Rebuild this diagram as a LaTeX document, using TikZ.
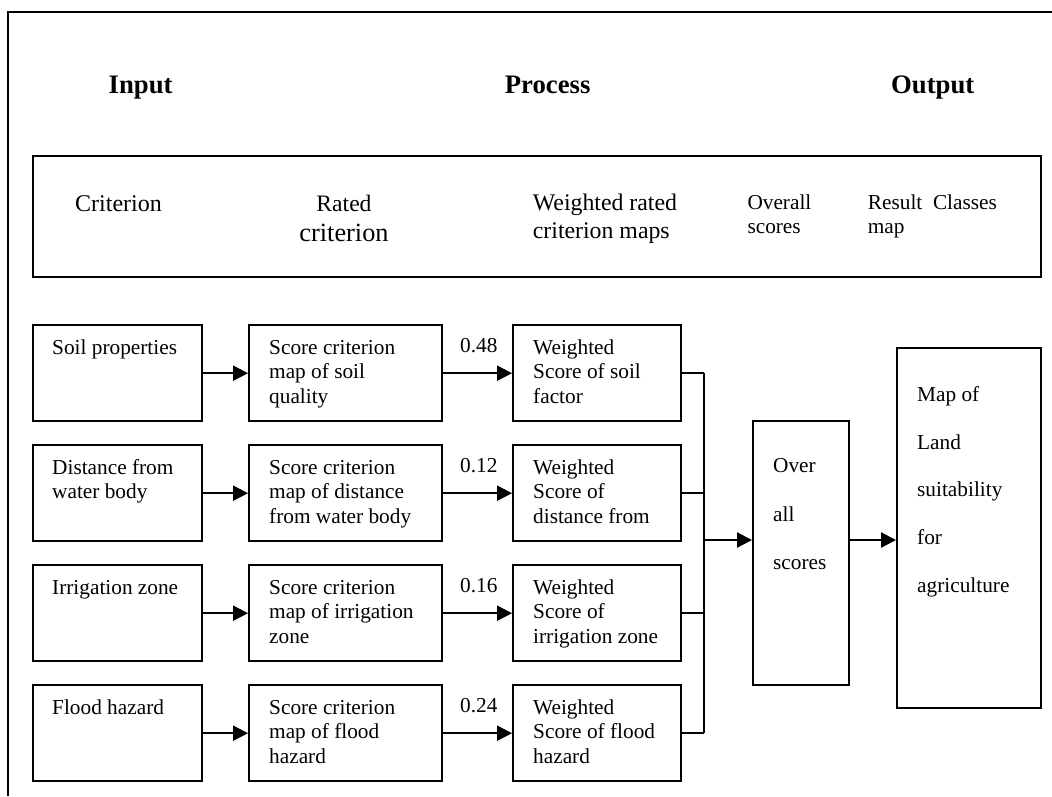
\documentclass[tikz,border=0pt]{standalone}
\usepackage{fontspec}
\setmainfont{Liberation Serif}
\usetikzlibrary{arrows.meta}
% font size helper: size and baseline skip in pt
\newcommand\fsz[2]{\fontsize{#1}{#2}\selectfont}
% left-aligned block of lines whose reference point is the first baseline
\newcommand\boxlines[1]{\parbox[t]{240pt}{\raggedright #1}}
\begin{document}
\begin{tikzpicture}[x=1pt,y=-1pt,
  frameline/.style={line width=2.4pt},
  box/.style={draw, line width=2.4pt, inner sep=0pt, anchor=north west},
  txt/.style={anchor=base west, inner sep=0pt},
  ctxt/.style={anchor=base, inner sep=0pt},
  body/.style={font=\fsz{21.3}{24.5}},
  title/.style={font=\bfseries\fsz{26.7}{30}},
  flow/.style={line width=2.2pt, -{Triangle[length=15pt,width=15pt]}},
  bus/.style={line width=2.2pt},
]
\useasboundingbox (0,0) rectangle (1052,796);

% outer frame (top and left edges)
\draw[frameline] (8,796) -- (8,12) -- (1052,12);

% stage titles
\node[txt, title] (tin)  at (108.5,93.3) {Input};
\node[txt, title] (tpro) at (504.7,93.3) {Process};
\node[txt, title] (tout) at (891,93.3)   {Output};

% header band with column captions
\node[box, minimum width=1008pt, minimum height=121pt] (hdr) at (32,155) {};
\node[txt, font=\fsz{24}{27}] (hcrit) at (75,211.5) {Criterion};
\node[ctxt, font=\fsz{23.6}{27}] (hrate) at (344,211) {Rated};
\node[ctxt, font=\fsz{26.3}{30}] (hrate2) at (344,241.7) {criterion};
\node[txt, font=\fsz{23.8}{27.3}] (hweig) at (532.7,210.7) {\boxlines{Weighted rated\\criterion maps}};
\node[txt, font=\fsz{21.3}{24.3}] (hover) at (747.3,209) {\boxlines{Overall\\scores}};
\node[txt, font=\fsz{21.3}{24.3}] (hres) at (867.7,209) {\boxlines{Result\ \ Classes\\map}};

% criterion rows: input map, rated map, weighted map
\foreach \r/\T/\ta/\tb/\w/\tc in {
  1/324/{Soil properties}/{Score criterion\\map of soil\\quality}/0.48/{Weighted\\Score of soil\\factor},
  2/444/{Distance from\\water body}/{Score criterion\\map of distance\\from water body}/0.12/{Weighted\\Score of\\distance from},
  3/564/{Irrigation zone}/{Score criterion\\map of irrigation\\zone}/0.16/{Weighted\\Score of\\irrigation zone},
  4/684/{Flood hazard}/{Score criterion\\map of flood\\hazard}/0.24/{Weighted\\Score of flood\\hazard}} {
  \node[box, minimum width=169pt, minimum height=96pt] (a\r) at (32,\T) {};
  \node[box, minimum width=193pt, minimum height=96pt] (b\r) at (248,\T) {};
  \node[box, minimum width=168pt, minimum height=96pt] (c\r) at (512,\T) {};
  \node[txt, body] (ta\r) at (52,\T+30)  {\boxlines{\ta}};
  \node[txt, body] (tb\r) at (269,\T+30) {\boxlines{\tb}};
  \node[txt, body] (tc\r) at (533,\T+30) {\boxlines{\tc}};
  \node[txt, body] (w\r)  at (460,\T+28) {\w};
  \draw[flow] (a\r.east) -- (b\r.west);
  \draw[flow] (b\r.east) -- (c\r.west);
}

% overall score and result boxes
\node[box, minimum width=96pt, minimum height=264pt] (ov) at (752,420) {};
\node[txt, font=\fsz{21.3}{48.5}] (tov) at (773,472.7) {\boxlines{Over\\all\\scores}};
\node[box, minimum width=144pt, minimum height=360pt] (res) at (896,347) {};
\node[txt, font=\fsz{21.3}{47.6}] (tres) at (917,401.7) {\boxlines{Map of\\Land\\suitability\\for\\agriculture}};

% collecting bus from the weighted maps
\coordinate (k) at (704,540);
\foreach \r in {1,...,4} {
  \draw[bus] (c\r.east) -- (c\r.east -| k);
}
\draw[bus] (c1.east -| k) -- (c4.east -| k);
\draw[flow] (k) -- (ov.west |- k);
\draw[flow] (ov.east |- k) -- (res.west |- k);
\end{tikzpicture}
\end{document}
